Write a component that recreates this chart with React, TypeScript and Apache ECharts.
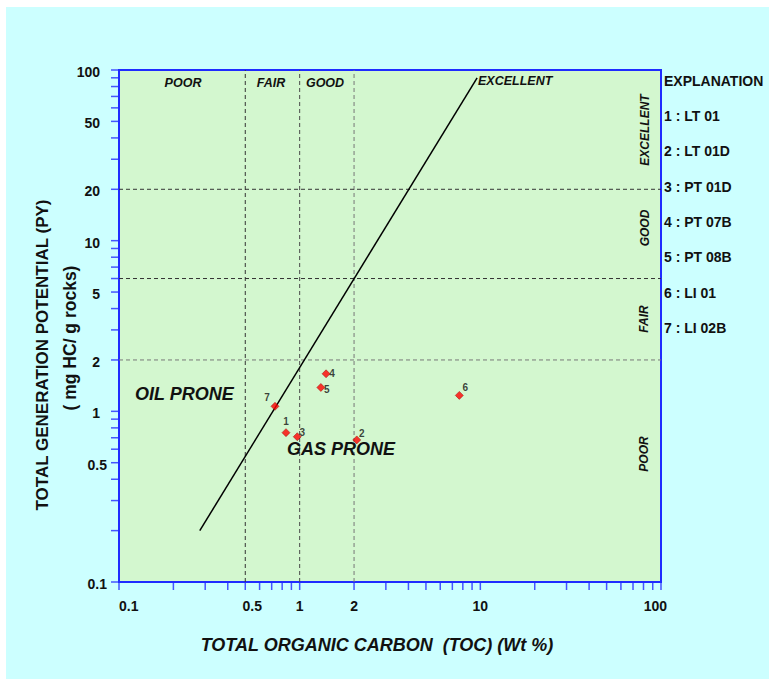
import React, { useEffect, useRef } from 'react';
import * as echarts from 'echarts';

// ---- data ----
const SAMPLE_IDS = ['1', '2', '3', '4', '5', '6', '7'];
const TOC = [0.84, 2.07, 0.97, 1.4, 1.31, 7.65, 0.73];
const PY = [0.75, 0.68, 0.71, 1.66, 1.38, 1.24, 1.07];
const EXPLANATION = ['1 : LT 01', '2 : LT 01D', '3 : PT 01D', '4 : PT 07B', '5 : PT 08B', '6 : LI 01', '7 : LI 02B'];
const TOC_BOUNDS = [0.5, 1, 2];
const PY_BOUNDS = [2, 6, 20];
const OIL_GAS_TOC = [0.28, 9.6];
const OIL_GAS_PY = [0.2, 90];
const X_TICKS = [0.1, 0.2, 0.3, 0.4, 0.5, 0.6, 0.7, 0.8, 0.9, 1, 2, 3, 4, 5, 6, 7, 8, 9, 10, 20, 30, 40, 50, 60, 70, 80, 90, 100];
const Y_TICKS = [0.1, 0.2, 0.3, 0.4, 0.5, 0.6, 0.7, 0.8, 0.9, 1, 2, 3, 4, 5, 6, 7, 8, 9, 10, 20, 30, 40, 50, 60, 70, 80, 90, 100];
const X_TICK_LABELS = [0.1, 0.5, 1, 2, 10, 100];
const Y_TICK_LABELS = [0.1, 0.5, 1, 2, 5, 10, 20, 50, 100];
const X_MIN = 0.1, X_MAX = 100, Y_MIN = 0.1, Y_MAX = 100;

// ---- styles ----
const FONT = '"Liberation Sans", Arial, sans-serif';
const AXIS_BLUE = '#1f2bff';
const TICK_BLUE = '#4455ff';
const PLOT_FILL = '#d3f7cf';
const BOUND_COLORS_X = ['#333333', '#4a4a4a', '#777777'];
const BOUND_COLORS_Y = ['#777777', '#333333', '#333333'];
const POINT_LABEL_OFFSETS: Record<string, [number, number]> = {
  '1': [0, -11], '2': [5, -6], '3': [5, -4], '4': [6, 0], '5': [6, 2], '6': [6, -8], '7': [-8, -9],
};

export default function App() {
  const ref = useRef<HTMLDivElement>(null);
  useEffect(() => {
    if (!ref.current) return;
    const chart = echarts.init(ref.current, undefined, { renderer: 'svg' });

    const boundSeries: any[] = [];
    TOC_BOUNDS.forEach((v, i) => boundSeries.push({
      type: 'line', silent: true, symbol: 'none', z: 3,
      data: [[v, Y_MIN], [v, Y_MAX]],
      lineStyle: { color: BOUND_COLORS_X[i], width: 1, type: [4, 3] },
    }));
    PY_BOUNDS.forEach((v, i) => boundSeries.push({
      type: 'line', silent: true, symbol: 'none', z: 3,
      data: [[X_MIN, v], [X_MAX, v]],
      lineStyle: { color: BOUND_COLORS_Y[i], width: 1, type: [4, 3] },
    }));

    const txt = (text: string, x: number, y: number, font: string, align = 'center', rotation = 0) => ({
      type: 'text', x, y, rotation, silent: true, z: 20,
      style: { text, font, fill: '#111111', align, verticalAlign: 'middle', textAlign: align, textVerticalAlign: 'middle' },
    });

    const graphics: any[] = [
      txt('POOR', 177, 76, `italic bold 12.5px ${FONT}`),
      txt('FAIR', 265, 76, `italic bold 12.5px ${FONT}`),
      txt('GOOD', 319, 76, `italic bold 12.5px ${FONT}`),
      txt('EXCELLENT', 472, 74, `italic bold 12.5px ${FONT}`, 'left'),
      txt('EXCELLENT', 639, 123, `italic bold 12px ${FONT}`, 'center', Math.PI / 2),
      txt('GOOD', 639, 221, `italic bold 12px ${FONT}`, 'center', Math.PI / 2),
      txt('FAIR', 638, 312, `italic bold 12px ${FONT}`, 'center', Math.PI / 2),
      txt('POOR', 638, 447, `italic bold 12px ${FONT}`, 'center', Math.PI / 2),
      txt('OIL PRONE', 129, 387, `italic bold 18px ${FONT}`, 'left'),
      txt('GAS PRONE', 281, 442, `italic bold 18px ${FONT}`, 'left'),
      txt('EXPLANATION', 658, 74, `bold 14px ${FONT}`, 'left'),
      ...EXPLANATION.map((t, i) => txt(t, 658, 109 + i * 35.3, `bold 14px ${FONT}`, 'left')),
      txt('TOTAL GENERATION POTENTIAL (PY)', 36, 348, `bold 17px ${FONT}`, 'center', Math.PI / 2),
      txt('( mg HC/ g rocks)', 64, 331, `bold 17.5px ${FONT}`, 'center', Math.PI / 2),
      txt('TOTAL ORGANIC CARBON  (TOC) (Wt %)', 371, 638, `italic bold 18px ${FONT}`),
    ];

    const option: any = {
      animation: false,
      backgroundColor: '#ccffff',
      grid: {
        left: 113, top: 63, width: 542, height: 512,
        show: true,
        backgroundColor: PLOT_FILL,
        borderColor: AXIS_BLUE, borderWidth: 2,
      },
      xAxis: {
        type: 'log', min: X_MIN, max: X_MAX, logBase: 10,
        axisLine: { show: true, onZero: false, lineStyle: { color: AXIS_BLUE, width: 2 } },
        axisTick: { show: false }, axisLabel: { show: false }, splitLine: { show: false },
      },
      yAxis: {
        type: 'log', min: Y_MIN, max: Y_MAX, logBase: 10,
        axisLine: { show: true, onZero: false, lineStyle: { color: AXIS_BLUE, width: 2 } },
        axisTick: { show: false }, axisLabel: { show: false }, splitLine: { show: false },
      },
      graphic: graphics,
      series: [
        ...boundSeries,
        {
          type: 'line', silent: true, symbol: 'none', z: 4,
          data: OIL_GAS_TOC.map((x, i) => [x, OIL_GAS_PY[i]]),
          lineStyle: { color: '#000000', width: 1.5 },
        },
        {
          type: 'scatter', z: 6, symbol: 'diamond', symbolSize: 8,
          data: TOC.map((x, i) => ({ name: SAMPLE_IDS[i], value: [x, PY[i]],
            label: { offset: POINT_LABEL_OFFSETS[SAMPLE_IDS[i]] } })),
          itemStyle: { color: '#ff0000', borderColor: '#990000', borderWidth: 0.6 },
          label: {
            show: true, position: 'inside', formatter: '{b}',
            color: '#111111', fontFamily: FONT, fontSize: 10, fontWeight: 'bold',
          },
        },
        {
          type: 'custom', silent: true, z: 10, clip: false,
          data: X_TICKS.map((v) => [v, Y_MIN]),
          renderItem: (_p: any, api: any) => {
            const p = api.coord([api.value(0), api.value(1)]);
            return { type: 'line', shape: { x1: p[0], y1: p[1] + 1, x2: p[0], y2: p[1] + 8 },
              style: { stroke: TICK_BLUE, lineWidth: 1.5 } };
          },
        },
        {
          type: 'custom', silent: true, z: 10, clip: false,
          data: Y_TICKS.map((v) => [X_MIN, v]),
          renderItem: (_p: any, api: any) => {
            const p = api.coord([api.value(0), api.value(1)]);
            return { type: 'line', shape: { x1: p[0] - 1, y1: p[1], x2: p[0] - 8, y2: p[1] },
              style: { stroke: TICK_BLUE, lineWidth: 1.5 } };
          },
        },
        {
          type: 'custom', silent: true, z: 10, clip: false,
          data: X_TICK_LABELS.map((v) => [v, Y_MIN]),
          renderItem: (_p: any, api: any) => {
            const v = api.value(0);
            const p = api.coord([v, api.value(1)]);
            let align = 'center';
            let dx = 0;
            if (v === X_MIN) { align = 'left'; }
            else if (v === X_MAX) { align = 'right'; dx = 6; }
            else if (v < 1) { dx = 7; }
            return { type: 'text', x: p[0] + dx, y: p[1] + 24,
              style: { text: String(v), font: `bold 14px ${FONT}`, fill: '#111111',
                align, verticalAlign: 'middle', textAlign: align, textVerticalAlign: 'middle' } };
          },
        },
        {
          type: 'custom', silent: true, z: 10, clip: false,
          data: Y_TICK_LABELS.map((v) => [X_MIN, v]),
          renderItem: (_p: any, api: any) => {
            const v = api.value(1);
            const p = api.coord([api.value(0), v]);
            const dx = v < 1 ? -12 : -19;
            return { type: 'text', x: p[0] + dx, y: p[1] + 2,
              style: { text: String(v), font: `bold 14px ${FONT}`, fill: '#111111',
                align: 'right', verticalAlign: 'middle', textAlign: 'right', textVerticalAlign: 'middle' } };
          },
        },
      ],
    };
    chart.setOption(option);
    return () => chart.dispose();
  }, []);
  return (
    <div
      ref={ref}
      style={{ position: 'absolute', left: 6, top: 7, width: 763, height: 672 }}
    />
  );
}
